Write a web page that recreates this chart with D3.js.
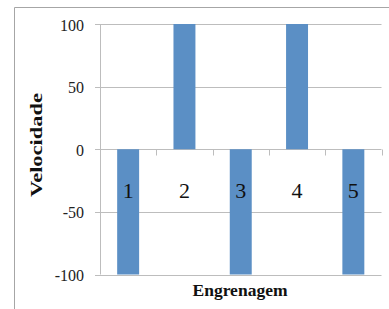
<!DOCTYPE html>
<html><head><meta charset="utf-8">
<script src="https://cdn.jsdelivr.net/npm/d3@7"></script>
<style>html,body{margin:0;padding:0;background:#fff;}svg{display:block;}</style>
</head><body>
<script>
const categories = ["1","2","3","4","5"];
const velocities = [-100, 100, -100, 100, -100];
const yTicks = [-100, -50, 0, 50, 100];
const xTitle = "Engrenagem";
const yTitle = "Velocidade";

const W = 389, H = 309;
const svg = d3.select("body").append("svg").attr("width", W).attr("height", H);
const serif = "Liberation Serif, serif";

// outer frame (left and top only visible)
svg.append("path").attr("d", "M14.5,309 V7.5 H389").attr("fill","none").attr("stroke","#a6a6a6").attr("stroke-width",1);

const x = d3.scaleBand().domain(categories).range([100, 381.5]).padding(0);
const y = d3.scaleLinear().domain([-100, 100]).range([274.5, 24]);

// gridlines
const grid = svg.append("g");
yTicks.forEach(t => {
  grid.append("line").attr("x1", 95).attr("x2", 381.5)
    .attr("y1", Math.round(y(t)) + 0.5).attr("y2", Math.round(y(t)) + 0.5)
    .attr("stroke", "#bdbdbd").attr("stroke-width", 1);
});
// y axis line
grid.append("line").attr("x1", 100.5).attr("x2", 100.5).attr("y1", y(100)).attr("y2", y(-100))
  .attr("stroke", "#bdbdbd");

// y tick labels
svg.append("g").selectAll("text").data(yTicks).join("text")
  .attr("x", 84).attr("y", d => y(d) + 1)
  .attr("text-anchor", "end").attr("dominant-baseline", "central")
  .attr("font-family", serif).attr("font-size", 16).attr("fill", "#222")
  .text(d => d);

// bars
const bw = x.bandwidth() * 0.39;
svg.append("g").selectAll("rect").data(velocities).join("rect")
  .attr("x", (d, i) => x(categories[i]) + x.bandwidth() / 2 - bw / 2)
  .attr("width", bw)
  .attr("y", d => y(Math.max(0, d)))
  .attr("height", d => Math.abs(y(d) - y(0)))
  .attr("fill", "#5b8fc5");

// category axis ticks at zero line
const y0 = Math.round(y(0)) + 0.5;
const bounds = categories.map(c => x(c)).concat([x.range()[1]]);
svg.append("g").selectAll("line").data(bounds.slice(1)).join("line")
  .attr("x1", d => Math.round(d) + 0.5).attr("x2", d => Math.round(d) + 0.5)
  .attr("y1", y0).attr("y2", y0 + 6).attr("stroke", "#bdbdbd");

// category labels
svg.append("g").selectAll("text").data(categories).join("text")
  .attr("x", d => x(d) + x.bandwidth() / 2).attr("y", y0 + 41)
  .attr("text-anchor", "middle").attr("dominant-baseline", "central")
  .attr("font-family", serif).attr("font-size", 22).attr("fill", "#111")
  .text(d => d);

// axis titles
svg.append("text").attr("x", 240).attr("y", 296)
  .attr("text-anchor", "middle").attr("font-family", serif).attr("font-weight", "bold")
  .attr("font-size", 17).attr("fill", "#111")
  .attr("textLength", 95).attr("lengthAdjust", "spacingAndGlyphs").text(xTitle);
svg.append("text").attr("transform", "translate(42,145) rotate(-90)")
  .attr("text-anchor", "middle").attr("font-family", serif).attr("font-weight", "bold")
  .attr("font-size", 17.5).attr("fill", "#111")
  .attr("textLength", 104).attr("lengthAdjust", "spacingAndGlyphs").text(yTitle);
</script>
</body></html>
